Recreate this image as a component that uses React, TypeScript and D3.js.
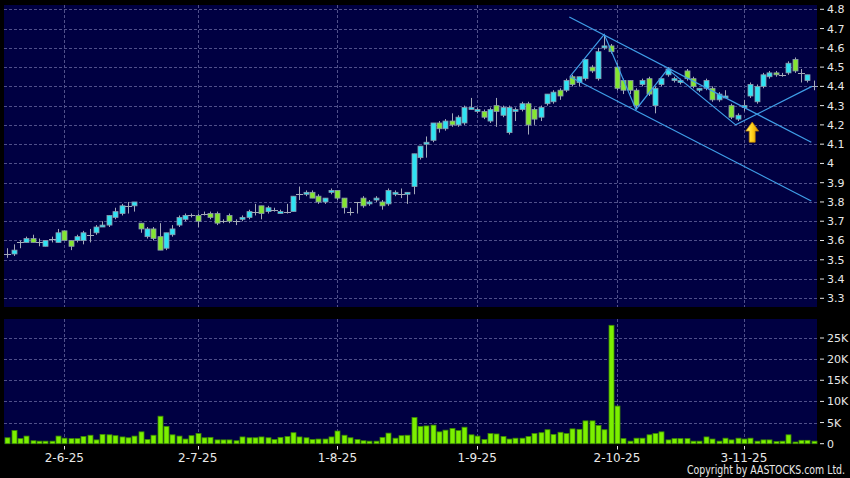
import React from 'react';
import * as d3 from 'd3';

const W = 850;
const H = 478;

const opens = [3.53,3.53,3.59,3.59,3.61,3.59,3.57,3.61,3.59,3.65,
3.60,3.60,3.60,3.63,3.64,3.67,3.68,3.72,3.74,3.78,
3.78,3.69,3.62,3.66,3.62,3.56,3.63,3.68,3.71,3.73,
3.73,3.74,3.74,3.74,3.70,3.73,3.70,3.71,3.72,3.75,
3.78,3.75,3.76,3.74,3.75,3.75,3.84,3.84,3.85,3.83,
3.80,3.85,3.86,3.82,3.75,3.80,3.82,3.79,3.81,3.80,
3.79,3.84,3.84,3.84,3.88,4.03,4.10,4.12,4.21,4.18,
4.22,4.20,4.21,4.28,4.27,4.27,4.22,4.30,4.25,4.16,
4.27,4.28,4.31,4.28,4.24,4.31,4.32,4.38,4.38,4.45,
4.42,4.44,4.50,4.44,4.60,4.61,4.50,4.43,4.43,4.38,
4.41,4.44,4.30,4.41,4.46,4.43,4.42,4.48,4.44,4.38,
4.39,4.39,4.33,4.34,4.30,4.23,4.29,4.35,4.32,4.40,
4.45,4.47,4.46,4.47,4.54,4.47,4.43,4.40];
const highs = [3.56,3.58,3.60,3.62,3.63,3.61,3.60,3.62,3.66,3.65,
3.60,3.63,3.65,3.66,3.68,3.70,3.73,3.77,3.79,3.80,
3.80,3.69,3.67,3.67,3.69,3.64,3.68,3.73,3.74,3.74,
3.74,3.75,3.75,3.75,3.71,3.74,3.71,3.73,3.76,3.79,
3.78,3.78,3.77,3.76,3.79,3.83,3.88,3.86,3.86,3.84,
3.82,3.87,3.86,3.82,3.77,3.80,3.83,3.81,3.83,3.81,
3.87,3.86,3.87,3.85,4.05,4.09,4.14,4.21,4.22,4.23,
4.26,4.25,4.30,4.34,4.29,4.28,4.29,4.34,4.30,4.30,
4.29,4.32,4.32,4.29,4.30,4.36,4.38,4.39,4.44,4.46,
4.45,4.54,4.51,4.60,4.67,4.62,4.52,4.44,4.43,4.39,
4.44,4.45,4.40,4.44,4.50,4.45,4.44,4.49,4.45,4.39,
4.44,4.40,4.37,4.38,4.31,4.26,4.33,4.42,4.41,4.47,
4.48,4.48,4.47,4.53,4.55,4.49,4.46,4.43];
const lows = [3.51,3.52,3.56,3.59,3.59,3.57,3.57,3.59,3.59,3.60,
3.55,3.59,3.58,3.59,3.63,3.67,3.67,3.71,3.73,3.74,
3.75,3.64,3.61,3.60,3.55,3.55,3.62,3.67,3.70,3.72,
3.67,3.73,3.71,3.68,3.69,3.69,3.68,3.70,3.71,3.73,
3.71,3.74,3.75,3.74,3.74,3.75,3.81,3.83,3.82,3.79,
3.79,3.84,3.81,3.74,3.73,3.74,3.77,3.78,3.80,3.76,
3.78,3.83,3.82,3.79,3.84,4.02,4.03,4.11,4.16,4.17,
4.19,4.19,4.20,4.28,4.26,4.23,4.21,4.19,4.24,4.15,
4.22,4.27,4.15,4.20,4.22,4.30,4.31,4.33,4.37,4.40,
4.40,4.43,4.47,4.43,4.59,4.57,4.38,4.36,4.36,4.28,
4.40,4.35,4.26,4.40,4.45,4.42,4.41,4.43,4.39,4.37,
4.38,4.32,4.32,4.34,4.23,4.22,4.27,4.34,4.31,4.39,
4.44,4.45,4.45,4.46,4.47,4.42,4.42,4.38];
const closes = [3.53,3.55,3.59,3.61,3.59,3.59,3.60,3.61,3.64,3.60,
3.57,3.62,3.64,3.63,3.67,3.68,3.73,3.75,3.78,3.78,
3.80,3.66,3.66,3.61,3.55,3.64,3.66,3.72,3.73,3.73,
3.70,3.74,3.72,3.69,3.70,3.70,3.70,3.72,3.75,3.75,
3.74,3.77,3.76,3.75,3.75,3.83,3.84,3.85,3.82,3.80,
3.82,3.86,3.82,3.77,3.75,3.80,3.78,3.80,3.82,3.78,
3.86,3.85,3.84,3.85,4.05,4.09,4.11,4.21,4.18,4.22,
4.20,4.24,4.29,4.29,4.28,4.24,4.28,4.27,4.29,4.29,
4.28,4.31,4.20,4.23,4.29,4.36,4.37,4.35,4.43,4.41,
4.45,4.54,4.48,4.58,4.61,4.58,4.39,4.38,4.38,4.30,
4.43,4.36,4.39,4.44,4.49,4.44,4.43,4.44,4.40,4.39,
4.43,4.33,4.36,4.35,4.24,4.25,4.30,4.41,4.40,4.46,
4.47,4.46,4.46,4.52,4.48,4.47,4.46,4.40];
// volume in thousands of shares
const volumes = [1.4,3.1,1.2,1.8,0.7,0.6,0.6,0.6,1.8,1.3,
1.2,1.2,1.7,2.0,0.9,2.2,2.1,1.9,1.6,1.4,
1.8,2.8,1.0,2.0,6.5,4.1,2.1,1.8,1.1,1.9,
2.4,1.4,1.5,0.9,0.9,0.9,0.7,1.6,1.4,1.4,
1.6,1.4,1.0,1.5,1.7,2.6,1.6,1.4,1.0,1.1,
1.1,1.6,3.0,2.0,1.4,1.0,0.7,0.6,0.6,1.5,
2.5,1.3,1.9,2.0,6.2,4.1,4.2,4.4,2.8,3.2,
3.6,3.1,3.9,2.1,1.8,1.0,2.4,2.3,1.7,1.1,
1.3,1.3,1.7,2.4,2.6,3.3,2.2,2.7,2.4,3.5,
3.4,5.4,5.4,4.3,3.3,28.0,8.9,1.2,0.6,1.3,
1.3,2.1,2.4,2.8,0.9,1.2,1.2,1.2,0.6,0.6,
1.6,1.1,0.6,1.3,0.9,1.3,1.1,1.3,0.6,0.9,
0.9,0.5,0.6,2.1,0.4,0.8,0.8,0.6];

const priceTicks = [3.3,3.4,3.5,3.6,3.7,3.8,3.9,4.0,4.1,4.2,4.3,4.4,4.5,4.6,4.7,4.8];
const volumeTicks = [0,5,10,15,20,25];
const dateTickIndex = [9,30,52,74,96,116];
const dateTickLabels = ['2-6-25','2-7-25','1-8-25','1-9-25','2-10-25','3-11-25'];

// drawn trend lines, in (candle index, price)
const channelUpper: [number, number][] = [[88.5,4.76],[126.6,4.11]];
const channelLower: [number, number][] = [[88.6,4.45],[126.6,3.805]];
const zigzag: [number, number][] = [[88.6,4.45],[94,4.67],[99,4.28],[104,4.49],[114.7,4.20],[126.7,4.40]];
const arrowMark = { i: 117.3, tip: 4.215, base: 4.11 };

const PLOT_L = 4, PLOT_R = 817;
const MAIN_T = 5, MAIN_B = 307;
const VOL_T = 319, VOL_B = 444;

const UP = '#2ee3f3';
const DOWN = '#84e630';
const FLAT = '#a4aab8';
const GRID = '#50508a';
const TXT = '#e8e8e8';
const LINE = '#3f9ee8';
const FONT = 'DejaVu Sans, Verdana, sans-serif';

export default function App() {
  const n = closes.length;
  const x = d3.scaleLinear().domain([-0.5, n - 0.5]).range([PLOT_L, PLOT_R]);
  const yP = d3.scaleLinear().domain([3.3, 4.8]).range([298.3, 9.3]);
  const yV = d3.scaleLinear().domain([0, 25]).range([443.7, 338]);
  const line = d3.line<[number, number]>().x(d => x(d[0])).y(d => yP(d[1]));
  const bodyW = 5;

  const ax = x(arrowMark.i);
  const at = yP(arrowMark.tip);
  const ab = yP(arrowMark.base);
  const headH = (ab - at) * 0.45;
  const arrowPts = [
    [ax, at], [ax + 6.5, at + headH], [ax + 3, at + headH], [ax + 3, ab],
    [ax - 3, ab], [ax - 3, at + headH], [ax - 6.5, at + headH],
  ].map(p => p.join(',')).join(' ');

  return (
    <svg width={W} height={H} style={{ position: 'fixed', left: 0, top: 0, display: 'block' }}
      xmlns="http://www.w3.org/2000/svg">
      <defs>
        <linearGradient id="arrowGrad" x1="0" x2="1" y1="0" y2="0">
          <stop offset="0" stopColor="#fff47a" />
          <stop offset="0.5" stopColor="#ffd21a" />
          <stop offset="1" stopColor="#d99000" />
        </linearGradient>
      </defs>
      <rect x={0} y={0} width={W} height={H} fill="#000" />
      <rect x={PLOT_L} y={MAIN_T} width={PLOT_R - PLOT_L} height={MAIN_B - MAIN_T} fill="#000042" />
      <rect x={PLOT_L} y={VOL_T} width={PLOT_R - PLOT_L} height={VOL_B - VOL_T} fill="#000042" />

      {/* grid */}
      <g stroke={GRID} strokeWidth={1} strokeDasharray="3,2" shapeRendering="crispEdges">
        {priceTicks.map(t => (
          <line key={'hp' + t} x1={PLOT_L} x2={PLOT_R} y1={Math.round(yP(t)) + 0.5} y2={Math.round(yP(t)) + 0.5} />
        ))}
        {volumeTicks.filter(t => t > 0).map(t => (
          <line key={'hv' + t} x1={PLOT_L} x2={PLOT_R} y1={Math.round(yV(t)) + 0.5} y2={Math.round(yV(t)) + 0.5} />
        ))}
        {dateTickIndex.map(i => (
          <g key={'vg' + i}>
            <line x1={Math.round(x(i)) + 0.5} x2={Math.round(x(i)) + 0.5} y1={MAIN_T} y2={MAIN_B} />
            <line x1={Math.round(x(i)) + 0.5} x2={Math.round(x(i)) + 0.5} y1={VOL_T} y2={VOL_B} />
          </g>
        ))}
      </g>

      {/* candles */}
      <g>
        {closes.map((c, i) => {
          const o = opens[i];
          const cx = Math.round(x(i)) + 0.5;
          const wick = (
            <line x1={cx} x2={cx} y1={yP(highs[i])} y2={yP(lows[i])} stroke={FLAT} strokeWidth={1} />
          );
          if (Math.abs(c - o) < 1e-9) {
            const yy = Math.round(yP(o)) + 0.5;
            return (
              <g key={i}>
                {wick}
                <line x1={cx - 3.5} x2={cx + 3.5} y1={yy} y2={yy} stroke={FLAT} strokeWidth={1} />
              </g>
            );
          }
          const top = yP(Math.max(o, c));
          const bot = yP(Math.min(o, c));
          return (
            <g key={i}>
              {wick}
              <rect x={cx - bodyW / 2} y={top} width={bodyW} height={Math.max(1, bot - top)}
                fill={c > o ? UP : DOWN} stroke="#8c9cae" strokeWidth={0.8} />
            </g>
          );
        })}
      </g>

      {/* trend lines */}
      <g fill="none" stroke={LINE} strokeWidth={1.2}>
        <path d={line(channelUpper) || ''} />
        <path d={line(channelLower) || ''} />
        <path d={line(zigzag) || ''} />
      </g>
      <polygon points={arrowPts} fill="url(#arrowGrad)" stroke="#b87a00" strokeWidth={0.7} />

      {/* volume */}
      <g>
        {volumes.map((v, i) => (
          <rect key={i} x={Math.round(x(i)) - 2} y={yV(v)} width={5} height={yV(0) - yV(v)}
            fill="#7cf000" stroke="#3c8c00" strokeWidth={0.8} />
        ))}
      </g>

      {/* right axes */}
      <g fill={TXT} fontFamily={FONT} fontSize={11}>
        {priceTicks.map(t => (
          <g key={'pl' + t}>
            <line x1={820} x2={824} y1={yP(t)} y2={yP(t)} stroke={TXT} strokeWidth={1} />
            <text x={827} y={yP(t)} dy="0.36em">{String(+t.toFixed(1))}</text>
          </g>
        ))}
        {volumeTicks.map(t => (
          <g key={'vl' + t}>
            <line x1={820} x2={824} y1={yV(t)} y2={yV(t)} stroke={TXT} strokeWidth={1} />
            <text x={827} y={yV(t)} dy="0.36em">{t === 0 ? '0' : t + 'K'}</text>
          </g>
        ))}
      </g>

      {/* date axis */}
      <g fill={TXT} fontFamily={FONT} fontSize={12}>
        {dateTickIndex.map((i, k) => (
          <g key={'dt' + i}>
            <line x1={Math.round(x(i)) + 0.5} x2={Math.round(x(i)) + 0.5} y1={446} y2={449.5} stroke={TXT} strokeWidth={1} />
            <text x={x(i)} y={462.3} textAnchor="middle">{dateTickLabels[k]}</text>
          </g>
        ))}
        <text x={687} y={474.3} fontSize={11.5} textLength={158} lengthAdjust="spacingAndGlyphs">Copyright by AASTOCKS.com Ltd.</text>
      </g>
    </svg>
  );
}
